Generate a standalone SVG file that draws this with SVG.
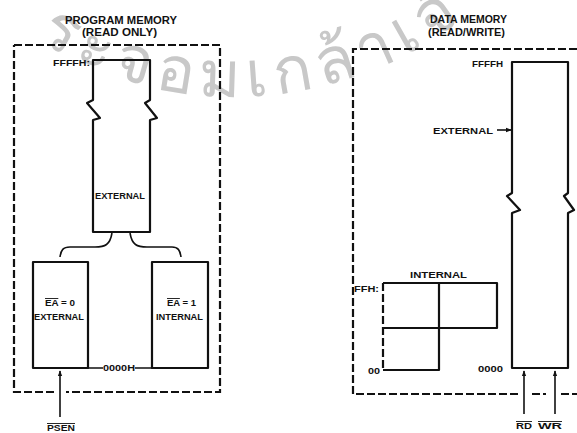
<svg xmlns="http://www.w3.org/2000/svg" width="577" height="433" viewBox="0 0 577 433">
<style>
.t{font-family:"Liberation Sans",Arial,sans-serif;font-weight:bold;font-size:10px;fill:#111}
.s{font-size:9px}
.box{fill:none;stroke:#111;stroke-width:2.2;stroke-linejoin:round}
.dash{fill:none;stroke:#111;stroke-width:2.2;stroke-dasharray:8 3}
.ln{fill:none;stroke:#111;stroke-width:1.6}
.wm{font-family:"Noto Sans","DejaVu Sans",sans-serif;font-size:64px;fill:#c8c8c8;letter-spacing:7px}
</style>
<defs>
<marker id="ah" viewBox="0 0 8 8" refX="7" refY="4" markerWidth="6" markerHeight="6" orient="auto" markerUnits="userSpaceOnUse">
<path d="M0,1 L8,4 L0,7 Z" fill="#111"/>
</marker>
<path id="arc" d="M0,12.8 A370,370 0 0,0 500,-14.8"/>
</defs>
<rect width="577" height="433" fill="#fff"/>
<g id="watermark">
<text class="wm"><textPath href="#arc" startOffset="46">ระจอมเกล้าเจ้า</textPath></text>
</g>
<g id="program-memory">
<text class="t" x="65" y="24" textLength="112" lengthAdjust="spacingAndGlyphs">PROGRAM MEMORY</text>
<text class="t" x="82" y="36" textLength="75" lengthAdjust="spacingAndGlyphs">(READ ONLY)</text>
<path class="dash" d="M14,45 H220 V392 H66 M54,392 H14 V45"/>
</g>
<g id="ext-prog">
<path class="box" d="M93,60 H150 V100 L145,103 L157,118 L150,120 V232 H93 V120 L100,118 L87,103 L93,100 Z"/>
<text class="t s" x="53" y="66" textLength="37" lengthAdjust="spacingAndGlyphs">FFFFH:</text>
<text class="t s" x="95" y="199" textLength="50" lengthAdjust="spacingAndGlyphs">EXTERNAL</text>
</g>
<g id="ea0">
<rect class="box" x="33" y="262" width="55" height="106"/>
<text class="t s" x="45" y="306" textLength="30" lengthAdjust="spacingAndGlyphs"><tspan text-decoration="overline">EA</tspan> = 0</text>
<text class="t s" x="34" y="320" textLength="50" lengthAdjust="spacingAndGlyphs">EXTERNAL</text>
</g>
<g id="ea1">
<rect class="box" x="152" y="262" width="56" height="106"/>
<text class="t s" x="167" y="306" textLength="29" lengthAdjust="spacingAndGlyphs"><tspan text-decoration="overline">EA</tspan> = 1</text>
<text class="t s" x="156" y="320" textLength="47" lengthAdjust="spacingAndGlyphs">INTERNAL</text>
</g>
<g id="addr0000">
<text class="t s" x="103" y="371" textLength="32" lengthAdjust="spacingAndGlyphs">0000H</text>
</g>
<g id="psen">
<text class="t s" x="47" y="431" textLength="28" lengthAdjust="spacingAndGlyphs" text-decoration="overline">PSEN</text>
</g>
<g id="data-memory">
<text class="t" x="430" y="23" textLength="77" lengthAdjust="spacingAndGlyphs">DATA MEMORY</text>
<text class="t" x="428" y="36" textLength="77" lengthAdjust="spacingAndGlyphs">(READ/WRITE)</text>
<path class="dash" d="M577,49 H353 V394 H518 M532,394 H546 M561,394 H577"/>
</g>
<g id="ext-data">
<path class="box" d="M512,62 H568 V193 L564,196 L574,210 L568,213 V368 H512 V213 L520,210 L507,196 L512,193 Z"/>
<text class="t s" x="472" y="67" textLength="31" lengthAdjust="spacingAndGlyphs">FFFFH</text>
<text class="t s" x="433" y="134" textLength="60" lengthAdjust="spacingAndGlyphs">EXTERNAL</text>
<text class="t s" x="478" y="372" textLength="25" lengthAdjust="spacingAndGlyphs">0000</text>
</g>
<g id="internal-ram">
<text class="t s" x="410" y="278" textLength="57" lengthAdjust="spacingAndGlyphs">INTERNAL</text>
<text class="t s" x="354" y="292" textLength="25" lengthAdjust="spacingAndGlyphs">FFH:</text>
<text class="t s" x="368" y="374" textLength="12" lengthAdjust="spacingAndGlyphs">00</text>
<path class="box" d="M383,283 H497 V328 H383 M439,283 V370 H383"/>
<path class="dash" d="M383,283 V370"/>
</g>
<g id="connectors">
<path class="ln" d="M112,233 C110,245 105,247 95,247 H70 C63,247 61,250 60,257"/>
<path class="ln" d="M130,233 C132,245 137,247 147,247 H172 C178,247 180,250 181,257"/>
<path class="ln" d="M88,368 H103 M135,368 H152"/>
<path class="ln" d="M60,417 V371" marker-end="url(#ah)"/>
<path class="ln" d="M497,130 H511" marker-end="url(#ah)"/>
<path class="ln" d="M524,414 V371" marker-end="url(#ah)"/>
<path class="ln" d="M555,414 V371" marker-end="url(#ah)"/>
</g>
<g id="signal-labels">
<text class="t s" x="516" y="429" textLength="16" lengthAdjust="spacingAndGlyphs" text-decoration="overline">RD</text>
<text class="t s" x="538" y="429" textLength="24" lengthAdjust="spacingAndGlyphs" text-decoration="overline">WR</text>
</g>
</svg>
